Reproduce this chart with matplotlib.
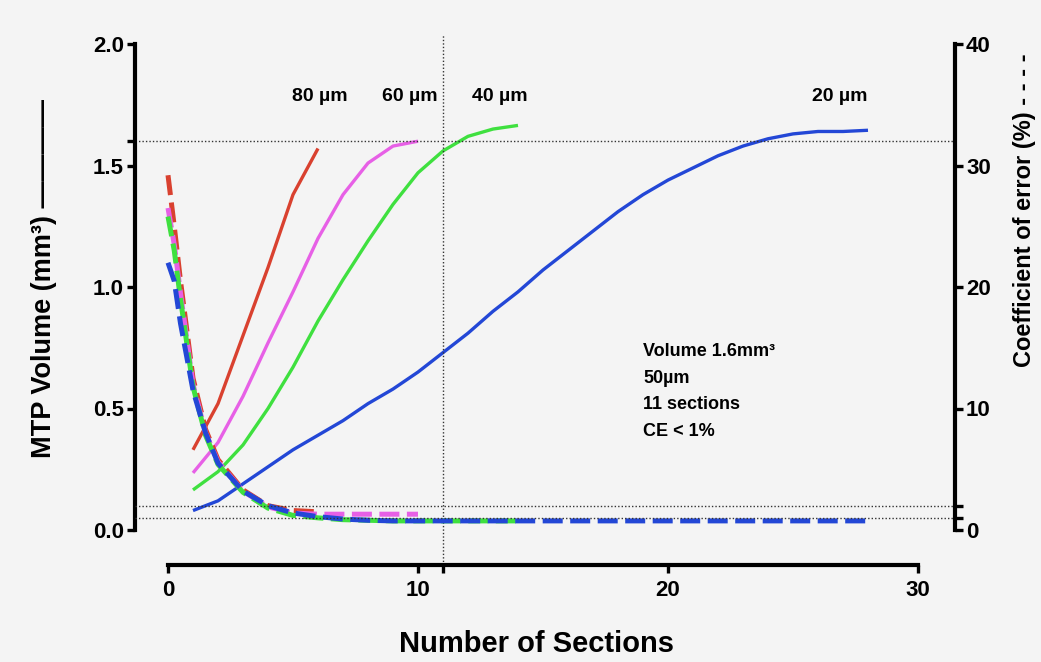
import numpy as np
import matplotlib
matplotlib.use('Agg')
import matplotlib.pyplot as plt

plt.rcParams['font.family'] = ['Liberation Sans', 'DejaVu Sans']
plt.rcParams['font.weight'] = 'bold'

# volume curves (left axis, mm3) for each section thickness
x_80 = [1, 2, 3, 4, 5, 6]
vol_80 = [0.33, 0.52, 0.80, 1.08, 1.38, 1.57]

x_60 = [1, 2, 3, 4, 5, 6, 7, 8, 9, 10]
vol_60 = [0.235, 0.36, 0.55, 0.77, 0.98, 1.20, 1.38, 1.51, 1.58, 1.60]

x_40 = [1, 2, 3, 4, 5, 6, 7, 8, 9, 10, 11, 12, 13, 14]
vol_40 = [0.165, 0.24, 0.35, 0.50, 0.67, 0.86, 1.03, 1.19, 1.34, 1.47, 1.56, 1.62, 1.65, 1.665]

x_20 = list(range(1, 29))
vol_20 = [0.08, 0.12, 0.19, 0.26, 0.33, 0.39, 0.45, 0.52, 0.58, 0.65,
          0.73, 0.81, 0.90, 0.98, 1.07, 1.15, 1.23, 1.31, 1.38, 1.44,
          1.49, 1.54, 1.58, 1.61, 1.63, 1.64, 1.64, 1.645]

# coefficient of error curves (right axis, %)
ce_x_80 = [0, 0.25, 0.5, 1, 1.5, 2, 3, 4, 5, 6]
ce_80 = [29.2, 25.0, 20.5, 12.5, 8.3, 5.8, 3.3, 2.0, 1.6, 1.5]

ce_x_60 = [0, 0.25, 0.5, 1, 1.5, 2, 3, 4, 5, 6, 7, 8, 9, 10]
ce_60 = [26.5, 23.5, 19.5, 12.0, 8.0, 5.6, 3.2, 1.9, 1.4, 1.3, 1.3, 1.3, 1.3, 1.3]

ce_x_40 = [0, 0.25, 0.5, 1, 1.5, 2, 3, 4, 5, 6, 7, 8, 9, 10, 11, 12, 13, 14]
ce_40 = [25.8, 23.0, 19.0, 11.8, 7.8, 5.4, 3.1, 1.8, 1.2, 1.0, 0.85, 0.8, 0.75, 0.75,
         0.75, 0.75, 0.75, 0.75]

ce_x_20 = [0, 0.25, 0.5, 1, 1.5, 2, 3, 4, 5, 6, 7, 8] + list(range(9, 29))
ce_20 = [22.0, 20.5, 17.0, 11.5, 8.0, 5.5, 3.2, 2.0, 1.4, 1.1, 0.9, 0.8] + [0.75] * 20

labels = ['80 µm', '60 µm', '40 µm', '20 µm']
label_x = [6.08, 9.68, 13.28, 26.88]
colors = ['#d9412f', '#e760e6', '#3fe03f', '#2347d6']

bg = '#f4f4f4'
fig = plt.figure(figsize=(10.41, 6.62), dpi=100, facecolor=bg)
ax = fig.add_axes([135 / 1041, 1 - 530 / 662, 820 / 1041, 486 / 662])
ax.set_facecolor(bg)
ax2 = ax.twinx()

# solid = volume
for xs, ys, c in zip([x_80, x_60, x_40, x_20], [vol_80, vol_60, vol_40, vol_20], colors):
    ax.plot(xs, ys, color=c, lw=2.4, solid_capstyle='butt')

# dashed = CE
for xs, ys, c in zip([ce_x_80, ce_x_60, ce_x_40, ce_x_20], [ce_80, ce_60, ce_40, ce_20], colors):
    ax2.plot(xs, ys, color=c, lw=3.6, dashes=(4.0, 1.5))

# reference lines
dot = (0, (1, 1.5))
ax.axhline(1.6, color='#333333', lw=1.0, ls=dot)
ax2.axhline(1, color='#333333', lw=1.0, ls=dot)
ax2.axhline(2, color='#333333', lw=1.0, ls=dot)
ax.plot([11, 11], [-0.144, 2.037], color='#333333', lw=1.0, ls=dot, clip_on=False)

ax.set_xlim(-1.32, 31.48)
ax.set_ylim(0, 2.0)
ax2.set_ylim(0, 40)

for a in (ax, ax2):
    a.spines['top'].set_visible(False)
    for s in ('left', 'right', 'bottom'):
        a.spines[s].set_linewidth(3)
ax.spines['right'].set_visible(False)
ax2.spines['left'].set_visible(False)
ax2.spines['bottom'].set_visible(False)
ax.spines['bottom'].set_position(('outward', 25.2))
ax.spines['bottom'].set_bounds(0, 30)
ax.spines['left'].set_bounds(0, 2.0)
ax2.spines['right'].set_bounds(0, 40)

ax.set_xticks([0, 10, 11, 20, 30])
ax.set_xticklabels(['0', '10', '', '20', '30'])
ax.set_yticks([0, 0.5, 1.0, 1.5, 1.6, 2.0])
ax.set_yticklabels(['0.0', '0.5', '1.0', '1.5', '', '2.0'])
ax2.set_yticks([0, 1, 2, 10, 20, 30, 40])
ax2.set_yticklabels(['0', '', '', '10', '20', '30', '40'])
for a in (ax, ax2):
    a.tick_params(direction='out', length=6, width=2.4, labelsize=16, pad=2)
ax.tick_params(axis='x', pad=5)

# curve labels
for lab, lx in zip(labels, label_x):
    ax.text(lx, 1.786, lab, ha='center', va='center', fontsize=14, fontweight='bold')

ax.text(19.0, 0.77, 'Volume 1.6mm³\n50µm\n11 sections\nCE < 1%', ha='left', va='top',
        fontsize=13, fontweight='bold', linespacing=1.75)

fig.text(0.042, 0.58, 'MTP Volume (mm³) ————', rotation=90, ha='center', va='center',
         fontsize=19.5, fontweight='bold')
fig.text(0.984, 0.683, 'Coefficient of error (%) - - - -', rotation=90, ha='center', va='center',
         fontsize=17, fontweight='bold')
fig.text(0.515, 0.015, 'Number of Sections', ha='center', va='baseline',
         fontsize=21, fontweight='bold')

fig.savefig('out.png', dpi=100, facecolor=bg)
